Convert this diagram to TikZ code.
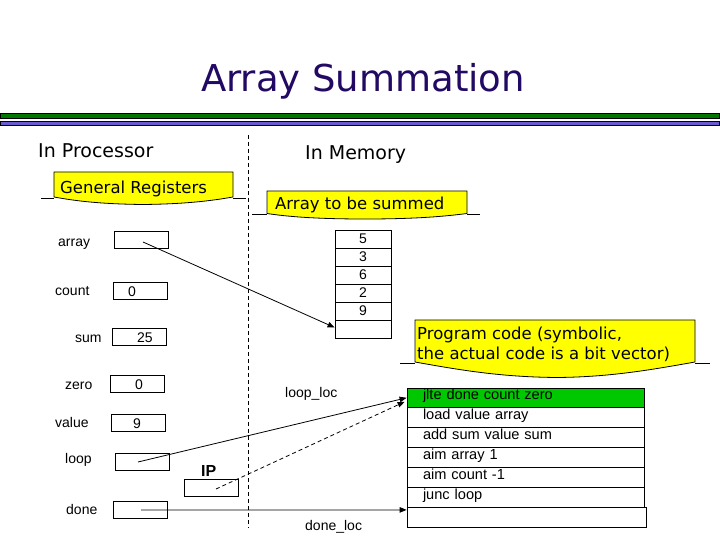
\documentclass[tikz,border=0pt]{standalone}
\usepackage{fontspec}
\setmainfont{Liberation Sans}
\newfontfamily\comicf{DejaVu Sans}
\usetikzlibrary{arrows.meta,calc}
\definecolor{titleblue}{RGB}{34,10,100}
\definecolor{bargreen}{RGB}{0,120,0}
\definecolor{barblue}{RGB}{106,90,205}
\definecolor{codegreen}{RGB}{0,200,0}
\definecolor{calloutyellow}{RGB}{255,255,0}
\tikzset{
  head/.style={font=\comicf\fontsize{19}{22}\selectfont, anchor=base west, inner sep=0},
  callout/.style={draw=black, line width=0.8pt, fill=calloutyellow},
  callouttext/.style={font=\comicf\fontsize{16.5}{20}\selectfont, anchor=base west, inner sep=0},
  lab/.style={font=\fontsize{14}{16}\selectfont, anchor=base west, inner sep=0},
  val/.style={font=\fontsize{14}{16}\selectfont, anchor=base, inner sep=0},
  regbox/.style={draw, line width=0.8pt, minimum width=54pt, minimum height=17pt, inner sep=0},
  memcell/.style={draw, line width=0.8pt, minimum width=56pt, minimum height=18pt, inner sep=0,
    font=\fontsize{14}{16}\selectfont, text height=10pt, text depth=1pt},
  codebox/.style={draw, line width=0.8pt, minimum width=237pt, minimum height=20pt,
    inner xsep=16pt, inner ysep=0pt, text width=205pt, align=left,
    font=\fontsize{14.6}{16}\selectfont, text height=8pt, text depth=4pt},
  arr/.style={line width=0.8pt, -{Triangle[length=7pt,width=5.5pt]}},
  bar/.style={draw=black, line width=0.9pt}
}
\begin{document}
\begin{tikzpicture}[x=1pt,y=-1pt]
\useasboundingbox[fill=white] (0,0) rectangle (720,540);

% title and bars
\node[font=\comicf\fontsize{37}{40}\selectfont, text=titleblue, anchor=base, inner sep=0] (title) at (363,92) {Array Summation};
\draw[bar, fill=bargreen] (0,113) rectangle (719,118.5);
\draw[bar, fill=barblue] (0,121.5) rectangle (719,125.5);

% divider
\coordinate (divtop) at (248,135);
\coordinate (divbot) at (248,528);
\draw[line width=0.8pt, dash pattern=on 4pt off 3pt] (divtop) -- (divbot);

% headings
\node[head] (inproc) at (38,158) {In Processor};
\node[head] (inmem) at (305,160) {In Memory};

% callout 1
\draw[callout] (54,172) -- (233,172) -- (233,197)
  .. controls (210,201) and (185,204) .. (143,204.5)
  .. controls (100,204) and (76,201) .. (54,197) -- cycle;
\draw[line width=0.8pt] (41,198) -- (54,198) (233,198) -- (246,198);
\node[callouttext] (genreg) at (60,194) {General Registers};

% callout 2
\draw[callout] (267,191) -- (467,191) -- (467,213.5)
  .. controls (440,217) and (410,219) .. (365,219)
  .. controls (320,219) and (290,217) .. (267,213.5) -- cycle;
\draw[line width=0.8pt] (252,214) -- (267,214) (467,214) -- (480,214);
\node[callouttext] (arrsum) at (275,210) {Array to be summed};

% callout 3
\draw[callout] (415,320) -- (695,320) -- (695,362)
  .. controls (650,370) and (610,377) .. (557,377.5)
  .. controls (500,377) and (460,370) .. (415,362) -- cycle;
\draw[line width=0.8pt] (400,363) -- (415,363) (695,363) -- (710,363);
\node[callouttext] (prog1) at (417,339) {Program code (symbolic,};
\node[callouttext] (prog2) at (417,359) {the actual code is a bit vector)};

% registers
\node[regbox] (rarray) at (141,240) {};
\node[regbox] (rcount) at (140.5,291) {};
\node[regbox] (rsum) at (139,337) {};
\node[regbox] (rzero) at (137,384) {};
\node[regbox] (rvalue) at (138,423) {};
\node[regbox] (rloop) at (142,461.5) {};
\node[regbox] (rip) at (211,487.5) {};
\node[regbox] (rdone) at (140,509.5) {};

\node[lab] (larray) at (58,246) {array};
\node[lab] (lcount) at (55,295) {count};
\node[lab] (lsum) at (75,342) {sum};
\node[lab] (lzero) at (65,389) {zero};
\node[lab] (lvalue) at (55,427) {value};
\node[lab] (lloop) at (65,463) {loop};
\node[lab] (ldone) at (66,514) {done};
\node[font=\bfseries\fontsize{16}{18}\selectfont, anchor=base west, inner sep=0] (lip) at (201,476) {IP};

\node[val] (vcount) at (132,296) {0};
\node[val] (vsum) at (145,342) {25};
\node[val] (vzero) at (139,389) {0};
\node[val] (vvalue) at (137,428) {9};

% memory array
\node[memcell] (m1) at (363,239) {5};
\node[memcell] (m2) at (363,257) {3};
\node[memcell] (m3) at (363,275) {6};
\node[memcell] (m4) at (363,293) {2};
\node[memcell] (m5) at (363,311) {9};
\node[memcell] (m6) at (363,329) {};

% program code
\node[codebox, fill=codegreen, minimum height=19pt] (c1) at (525.5,397.8) {jlte done count zero};
\node[codebox] (c2) at (525.5,417.3) {load value array};
\node[codebox] (c3) at (525.5,437.3) {add sum value sum};
\node[codebox] (c4) at (525.5,457.3) {aim array 1};
\node[codebox] (c5) at (525.5,477.3) {aim count -1};
\node[codebox] (c6) at (525.5,497.3) {junc loop};
\node[codebox, minimum width=239pt, text width=207pt] (c7) at (526.5,517.3) {};

\node[lab] (looploc) at (285,397) {loop\_loc};
\node[lab] (doneloc) at (305,530) {done\_loc};

% pointers
\coordinate (parray) at (143,242);
\coordinate (ploop) at (138,462);
\coordinate (pip) at (216,489);
\coordinate (pdone) at (141,510);
\draw[arr] (parray) -- ($(m6.west)+(0,-1.5)$);
\draw[arr] (ploop) -- (c1.west);
\draw[arr, dash pattern=on 4pt off 3pt] (pip) -- ($(c1.west)+(-2,4)$);
\draw[arr] (pdone) -- ($(c7.north west)+(0,3)$);
\end{tikzpicture}
\end{document}
